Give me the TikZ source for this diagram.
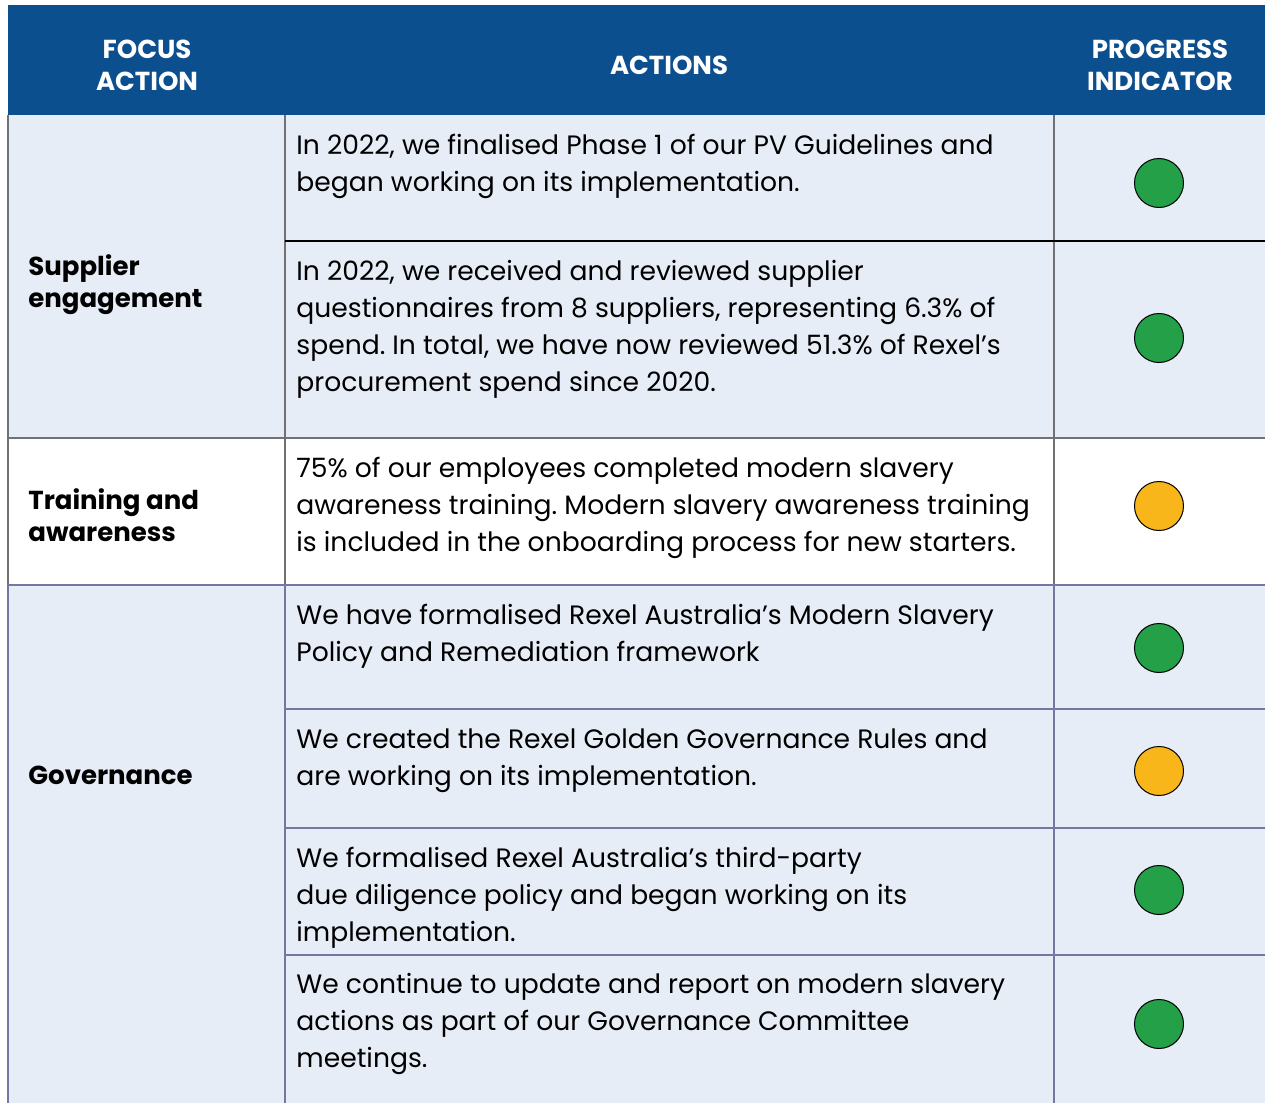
\documentclass[tikz,border=0pt]{standalone}
\usepackage{fontspec}
\setmainfont{Poppins}
\frenchspacing
\definecolor{headblue}{HTML}{0B4F8E}
\definecolor{cellblue}{HTML}{E6EDF7}
\definecolor{okgreen}{HTML}{24A148}
\definecolor{warnyellow}{HTML}{F8B61A}
\definecolor{rulegrey}{HTML}{707075}
\definecolor{ruleblue}{HTML}{7378A2}
\begin{document}
\begin{tikzpicture}[x=0.5pt,y=-0.5pt,
  headtext/.style={text=white,font=\fontsize{13}{16}\selectfont\bfseries,align=center},
  focustext/.style={anchor=west,font=\fontsize{13}{16}\selectfont\bfseries,align=left,inner sep=0},
  actiontext/.style={anchor=north west,font=\fontsize{13.3}{18.5}\selectfont,align=left,inner sep=0},
  dot/.style={circle,draw=black,line width=0.5pt,minimum size=24.5pt,inner sep=0},
  gridline/.style={rulegrey,line width=0.8pt},
  govline/.style={ruleblue,line width=0.8pt}]
\useasboundingbox (0,0) rectangle (1265,1103);

% Backgrounds
\fill[headblue] (8,5) rectangle (1265,115);
\fill[cellblue] (8,115) rectangle (1265,438);
\fill[white] (8,438) rectangle (1265,585);
\fill[cellblue] (8,585) rectangle (1265,1103);

% Grid
\draw[gridline] (8,115) -- (8,585);
\draw[govline] (8,585) -- (8,1103);
\foreach \x in {285,1054}
  \draw[gridline] (\x,115) -- (\x,585);
\foreach \x in {285,1054}
  \draw[govline] (\x,585) -- (\x,1103);
\draw[black,line width=0.8pt] (285,241) -- (1265,241);
\draw[gridline] (8,438) -- (1265,438);
\draw[govline] (8,585) -- (1265,585);
\foreach \y in {709,828,955}
  \draw[govline] (285,\y) -- (1265,\y);

% Header
\node[headtext] (head1) at (147,65) {FOCUS\\ACTION};
\node[headtext] (head2) at (669,65) {ACTIONS};
\node[headtext] (head3) at (1160,65) {PROGRESS\\INDICATOR};

% Focus actions
\node[focustext] (focus1) at (28,285) {Supplier\\engagement};
\node[focustext] (focus2) at (28,515) {Training and\\awareness};
\node[focustext] (focus3) at (28,775) {Governance};

% Actions
\node[actiontext] (act1) at (296,134) {In 2022, we finalised Phase 1 of our PV Guidelines and\\began working on its implementation.};
\node[actiontext] (act2) at (296,260) {In 2022, we received and reviewed supplier\\questionnaires from 8 suppliers, representing 6.3\% of\\spend. In total, we have now reviewed 51.3\% of Rexel’s\\procurement spend since 2020.};
\node[actiontext] (act3) at (296,457) {75\% of our employees completed modern slavery\\awareness training. Modern slavery awareness training\\is included in the onboarding process for new starters.};
\node[actiontext] (act4) at (296,604) {We have formalised Rexel Australia’s Modern Slavery\\Policy and Remediation framework};
\node[actiontext] (act5) at (296,728) {We created the Rexel Golden Governance Rules and\\are working on its implementation.};
\node[actiontext] (act6) at (296,847) {We formalised Rexel Australia’s third-party\\due diligence policy and began working on its\\implementation.};
\node[actiontext] (act7) at (296,973) {We continue to update and report on modern slavery\\actions as part of our Governance Committee\\meetings.};

% Progress indicators
\foreach \y/\c/\n in {183/okgreen/dot1,338/okgreen/dot2,506/warnyellow/dot3,648/okgreen/dot4,771/warnyellow/dot5,890/okgreen/dot6,1024/okgreen/dot7}
  \node[dot,fill=\c] (\n) at (1159,\y) {};

\end{tikzpicture}
\end{document}
